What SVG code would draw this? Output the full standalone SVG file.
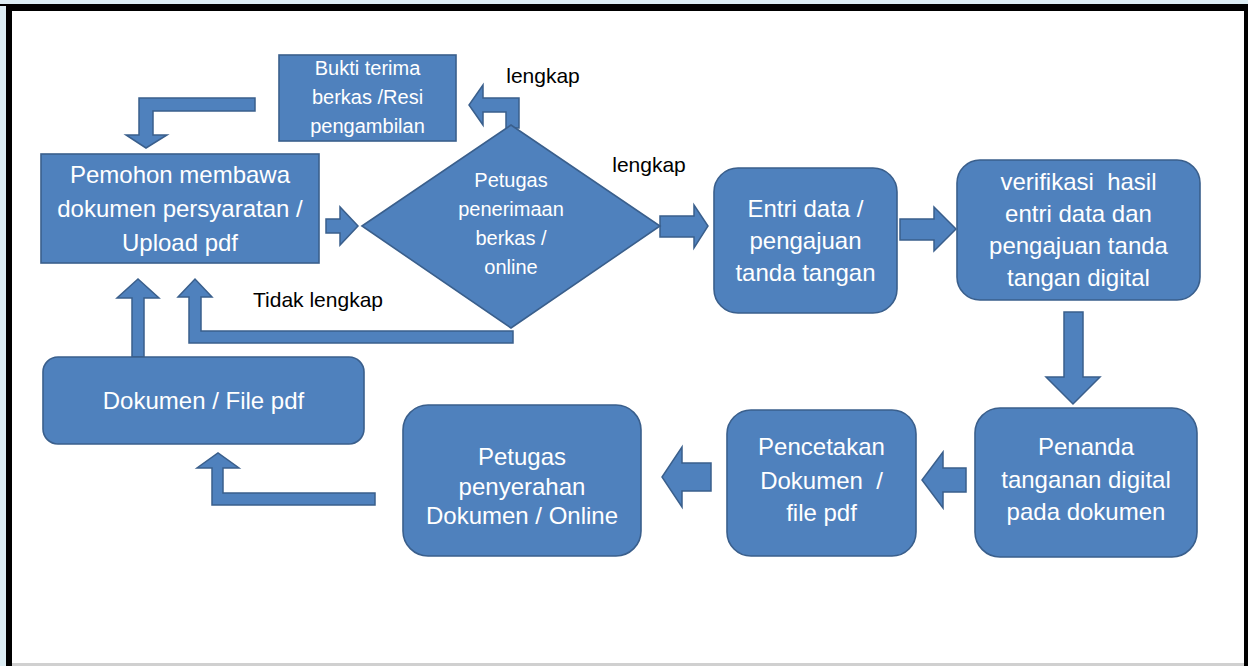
<svg xmlns="http://www.w3.org/2000/svg" width="1248" height="666" viewBox="0 0 1248 666">
<style>
.n{fill:#4f81bd;stroke:#3a5f8c;stroke-width:1.6}
.a{fill:#4f81bd;stroke:#3a5f8c;stroke-width:1.5;stroke-linejoin:miter}
.t{font-family:"Liberation Sans",Arial,sans-serif;font-size:24px;fill:#ffffff;text-anchor:middle;white-space:pre}
.s{font-size:20px}
.l{font-family:"Liberation Sans",Arial,sans-serif;font-size:21px;fill:#000000;text-anchor:middle}
</style>
<g id="frame">
<rect x="0" y="0" width="1248" height="666" fill="#ffffff"/>
<rect x="0" y="0" width="7" height="666" fill="#dcedf4"/>
<rect x="0" y="0" width="1248" height="4" fill="#dcedf4"/>
<rect x="0" y="4" width="1248" height="2" fill="#000000"/>
<rect x="6" y="4" width="1242" height="7" fill="#000000"/>
<rect x="6" y="4" width="6" height="662" fill="#000000"/>
<rect x="1244" y="4" width="4" height="662" fill="#000000"/>
<rect x="12" y="663" width="1232" height="3" fill="#d0d0d0"/>
</g>
<g id="connectors">
<polygon class="a" points="255,98 139,98 139,135 126,135 146,148 167,135 153,135 153,111 255,111"/>
<polygon class="a" points="506,128 519,128 519,98 483,98 483,85 469,105 483,125 483,112 506,112"/>
<polygon class="a" points="326,219 340,219 340,207 358,226 340,245 340,233 326,233"/>
<polygon class="a" points="660,216 694,216 694,205 708,226 694,248 694,237 660,237"/>
<polygon class="a" points="900,219 934,219 934,207 956,229 934,251 934,240 900,240"/>
<polygon class="a" points="1064,312 1083,312 1083,377 1100,377 1073,404 1046,377 1064,377"/>
<polygon class="a" points="966,468 943,468 943,452 922,480 943,508 943,492 966,492"/>
<polygon class="a" points="711,463 682,463 682,447 662,477 682,507 682,491 711,491"/>
<polygon class="a" points="375,493 375,505 212,505 212,468 197,468 218,453 239,468 223,468 223,493"/>
<polygon class="a" points="513,331 513,343 189,343 189,297 178,297 195,279 212,297 201,297 201,331"/>
<polygon class="a" points="132,357 132,298 117,298 138,279 159,298 144,298 144,357"/>
<text class="l" x="543" y="83">lengkap</text>
<text class="l" x="649" y="172">lengkap</text>
<text class="l" x="318" y="307">Tidak lengkap</text>
</g>
<g id="bukti">
<rect class="n" x="279" y="55" width="177" height="86"/>
<text class="t s" x="367.5" y="75">Bukti terima</text>
<text class="t s" x="367.5" y="104">berkas /Resi</text>
<text class="t s" x="367.5" y="133">pengambilan</text>
</g>
<g id="pemohon">
<rect class="n" x="41" y="154" width="278" height="109"/>
<text class="t" x="180" y="183">Pemohon membawa</text>
<text class="t" x="180" y="217">dokumen persyaratan /</text>
<text class="t" x="180" y="251">Upload pdf</text>
</g>
<g id="petugas-penerimaan">
<polygon class="n" points="362,226 511,125 660,226 511,328"/>
<text class="t s" x="511" y="187">Petugas</text>
<text class="t s" x="511" y="216">penerimaan</text>
<text class="t s" x="511" y="245">berkas /</text>
<text class="t s" x="511" y="274">online</text>
</g>
<g id="entri">
<rect class="n" x="714" y="168" width="183" height="145" rx="24"/>
<text class="t" x="805.5" y="217">Entri data /</text>
<text class="t" x="805.5" y="249">pengajuan</text>
<text class="t" x="805.5" y="281">tanda tangan</text>
</g>
<g id="verifikasi">
<rect class="n" x="957" y="160" width="243" height="140" rx="23"/>
<text class="t" x="1078.5" y="190">verifikasi  hasil</text>
<text class="t" x="1078.5" y="222">entri data dan</text>
<text class="t" x="1078.5" y="254">pengajuan tanda</text>
<text class="t" x="1078.5" y="286">tangan digital</text>
</g>
<g id="penanda">
<rect class="n" x="975" y="408" width="222" height="149" rx="25"/>
<text class="t" x="1086" y="455">Penanda</text>
<text class="t" x="1086" y="488">tanganan digital</text>
<text class="t" x="1086" y="520">pada dokumen</text>
</g>
<g id="pencetakan">
<rect class="n" x="727" y="410" width="189" height="146" rx="24"/>
<text class="t" x="821.5" y="455">Pencetakan</text>
<text class="t" x="821.5" y="489">Dokumen  /</text>
<text class="t" x="821.5" y="521">file pdf</text>
</g>
<g id="petugas-penyerahan">
<rect class="n" x="403" y="405" width="238" height="151" rx="25"/>
<text class="t" x="522" y="465">Petugas</text>
<text class="t" x="522" y="495">penyerahan</text>
<text class="t" x="522" y="524">Dokumen / Online</text>
</g>
<g id="dokumen">
<rect class="n" x="43" y="357" width="321" height="87" rx="15"/>
<text class="t" x="203.5" y="409">Dokumen / File pdf</text>
</g>
</svg>
